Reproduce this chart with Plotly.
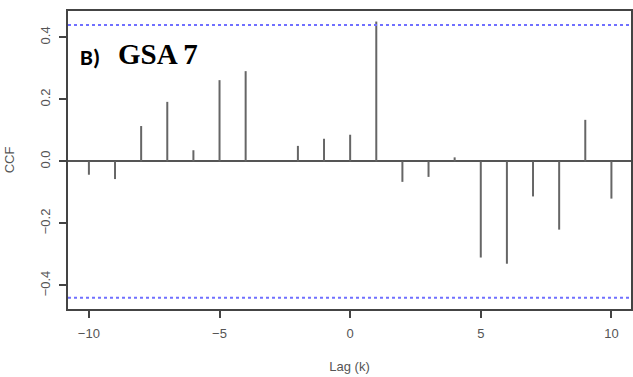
import plotly.graph_objects as go

lags = [-10, -9, -8, -7, -6, -5, -4, -3, -2, -1, 0, 1, 2, 3, 4, 5, 6, 7, 8, 9, 10]
ccf = [-0.043, -0.057, 0.114, 0.192, 0.036, 0.262, 0.291, 0.0, 0.05, 0.073, 0.086,
       0.451, -0.066, -0.05, 0.013, -0.31, -0.33, -0.113, -0.22, 0.134, -0.12]
conf = 0.44
x_ticks = [-10, -5, 0, 5, 10]
y_ticks = [-0.4, -0.2, 0.0, 0.2, 0.4]

# vertical spikes built from the data arrays
sx, sy = [], []
for l, v in zip(lags, ccf):
    sx += [l, l, None]
    sy += [0, v, None]

fig = go.Figure()
fig.add_trace(go.Scatter(x=sx, y=sy, mode="lines", line=dict(color="#666666", width=2),
                         showlegend=False, hoverinfo="skip"))
for c in (conf, -conf):
    fig.add_trace(go.Scatter(x=[-10.8, 10.8], y=[c, c], mode="lines",
                             line=dict(color="#7070ff", width=2, dash="dot"), showlegend=False))

fig.add_annotation(x=0.017, y=0.845, xref="paper", yref="paper", xanchor="left", yanchor="middle",
                   text="<b>B)</b>", showarrow=False,
                   font=dict(family="Carlito, Liberation Sans, Arial", size=23, color="black"))
fig.add_annotation(x=0.086, y=0.857, xref="paper", yref="paper", xanchor="left", yanchor="middle",
                   text="<b>GSA 7</b>", showarrow=False,
                   font=dict(family="Liberation Serif, Times New Roman", size=29, color="black"))

axis_font = dict(family="Liberation Sans, Arial", size=13, color="#555")
fig.update_layout(
    width=633, height=377,
    margin=dict(l=68, r=2, t=11, b=68, autoexpand=False),
    paper_bgcolor="white", plot_bgcolor="white",
    xaxis=dict(range=[-10.8, 10.75], tickvals=x_ticks, ticktext=["\u221210", "\u22125", "0", "5", "10"],
               ticks="outside", ticklen=7, tickwidth=1.5, ticklabelstandoff=5,
               tickcolor="#444", showgrid=False, zeroline=False, automargin=False,
               showline=True, mirror=True, linecolor="#444", linewidth=1.5,
               tickfont=axis_font,
               title=dict(text="Lag (k)", font=axis_font, standoff=22)),
    yaxis=dict(range=[-0.476, 0.485], tickvals=y_ticks, ticktext=["\u22120.4", "\u22120.2", "0.0", "0.2", "0.4"],
               ticks="outside", ticklen=7, tickwidth=1.5, tickangle=-90, automargin=False,
               ticklabelstandoff=4,
               tickcolor="#444", showgrid=False, zeroline=True, zerolinecolor="#555", zerolinewidth=1.5,
               showline=True, mirror=True, linecolor="#444", linewidth=1.5,
               tickfont=axis_font,
               title=dict(text="CCF", font=axis_font, standoff=20)),
)
fig.write_html("out.html", config={"displayModeBar": False},
               post_script="document.body.style.margin='0';document.body.style.overflow='hidden';")
